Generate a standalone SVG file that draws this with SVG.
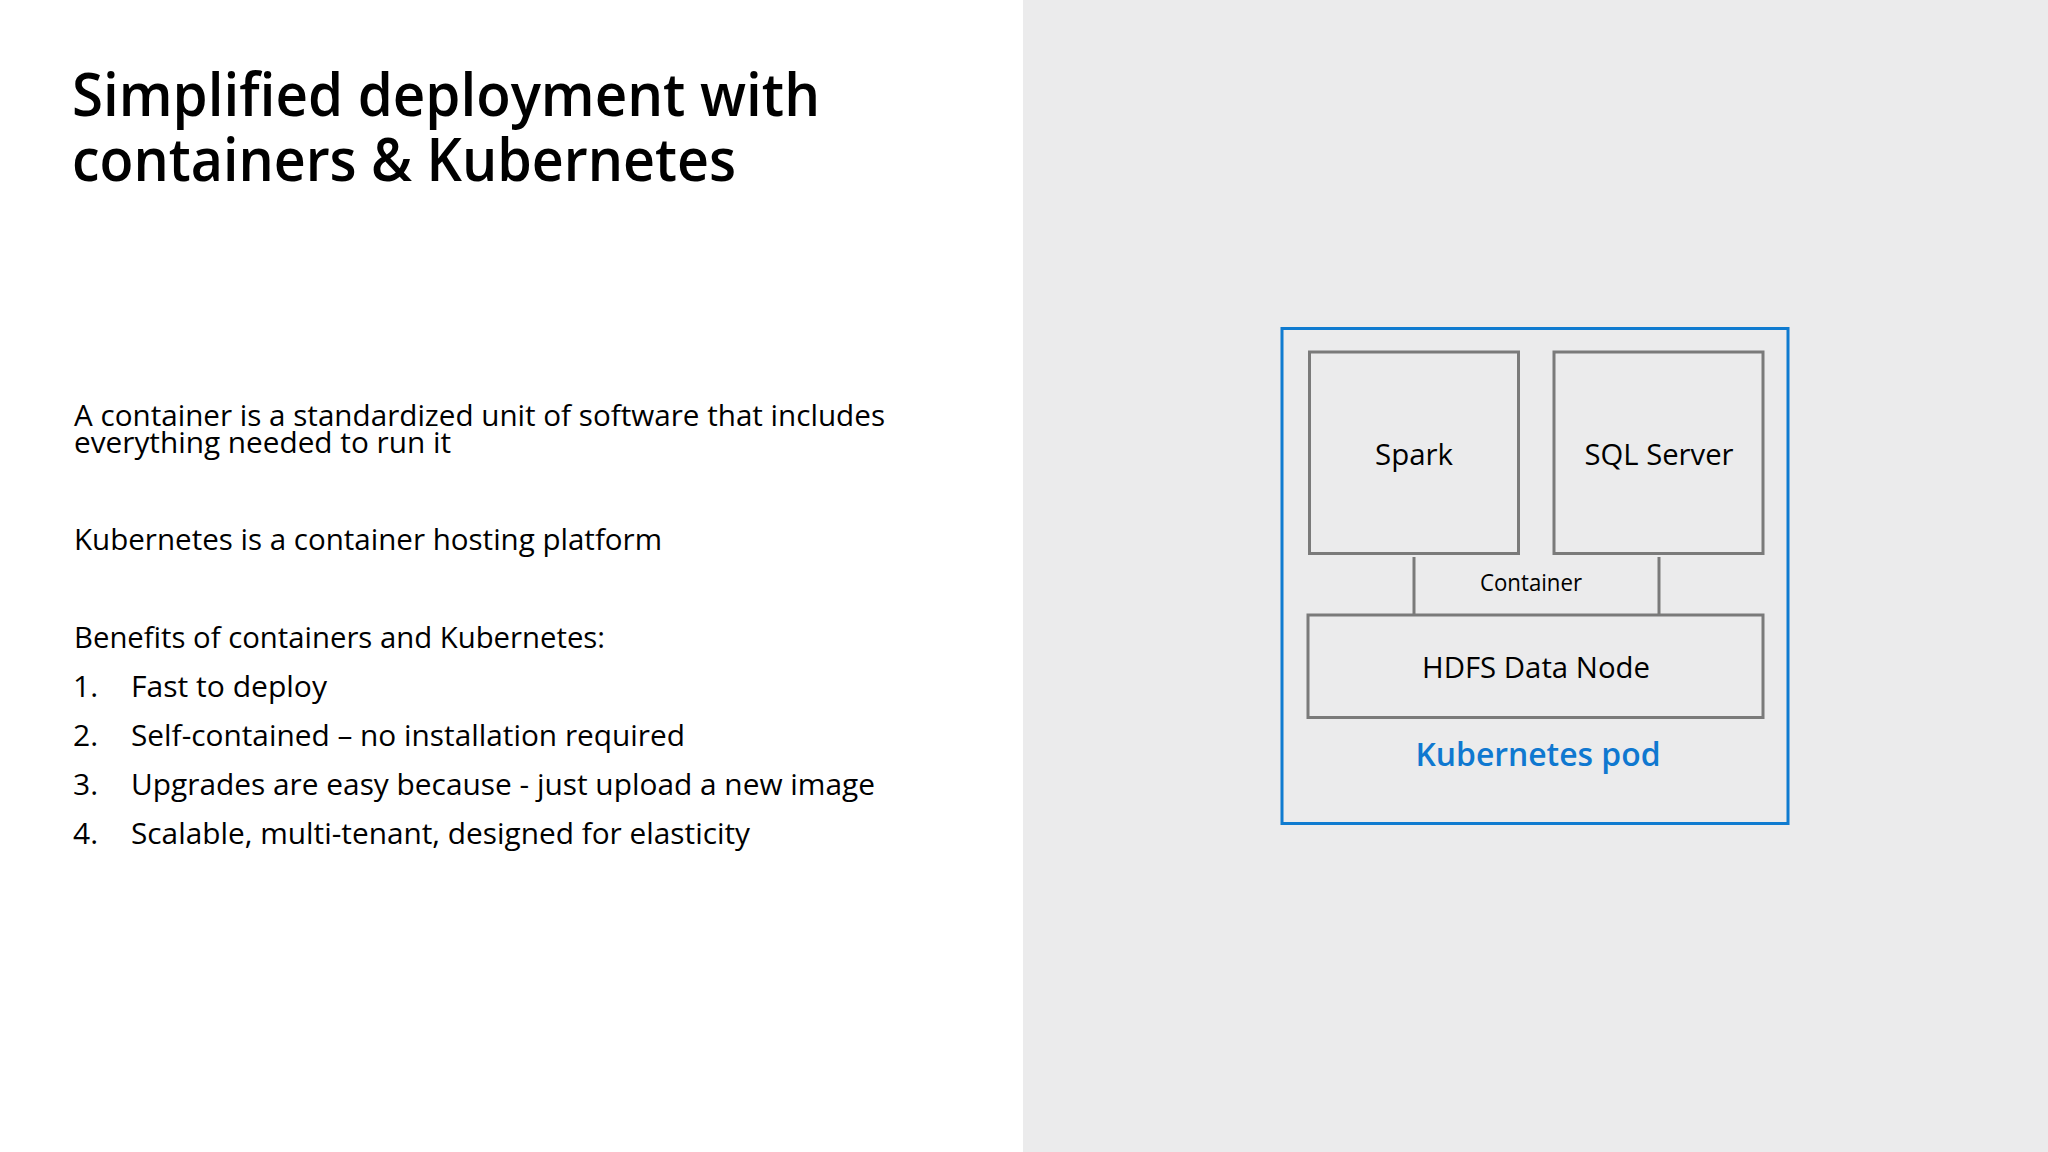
<svg xmlns="http://www.w3.org/2000/svg" width="2048" height="1152" viewBox="0 0 2048 1152">
<style>
text{font-family:"Open Sans","Noto Sans",sans-serif;fill:#000}
.t{font-size:59px;font-weight:600}
.b{font-size:30px}
.box{fill:none;stroke:#7a7a7a;stroke-width:3}
.n{font-size:30px;text-anchor:middle}
.c{stroke:#7a7a7a;stroke-width:3;fill:none}
</style>
<rect width="2048" height="1152" fill="#fff"/>
<rect x="1023" width="1025" height="1152" fill="#ebebec"/>
<text class="t" x="72" y="116" textLength="748" lengthAdjust="spacingAndGlyphs">Simplified deployment with</text>
<text class="t" x="72" y="181" textLength="664" lengthAdjust="spacingAndGlyphs">containers &amp; Kubernetes</text>
<text class="b" x="74" y="426" textLength="811" lengthAdjust="spacingAndGlyphs">A container is a standardized unit of software that includes</text>
<text class="b" x="74" y="453" textLength="377" lengthAdjust="spacingAndGlyphs">everything needed to run it</text>
<text class="b" x="74" y="550" textLength="588" lengthAdjust="spacingAndGlyphs">Kubernetes is a container hosting platform</text>
<text class="b" x="74" y="648" textLength="531" lengthAdjust="spacingAndGlyphs">Benefits of containers and Kubernetes:</text>
<text class="b" x="73" y="697">1.</text><text class="b" x="131" y="697" textLength="196" lengthAdjust="spacingAndGlyphs">Fast to deploy</text>
<text class="b" x="73" y="746">2.</text><text class="b" x="131" y="746" textLength="554" lengthAdjust="spacingAndGlyphs">Self-contained – no installation required</text>
<text class="b" x="73" y="795">3.</text><text class="b" x="131" y="795" textLength="744" lengthAdjust="spacingAndGlyphs">Upgrades are easy because - just upload a new image</text>
<text class="b" x="73" y="844">4.</text><text class="b" x="131" y="844" textLength="619" lengthAdjust="spacingAndGlyphs">Scalable, multi-tenant, designed for elasticity</text>
<g id="connectors">
<line class="c" x1="1414" y1="557" x2="1414" y2="614"/>
<line class="c" x1="1659" y1="557" x2="1659" y2="614"/>
</g>
<g id="pod"><rect x="1282" y="328.5" width="506" height="495" fill="none" stroke="#0f7bd0" stroke-width="3"/>
<text x="1538" y="766" font-size="33" font-weight="600" text-anchor="middle" textLength="245" lengthAdjust="spacingAndGlyphs" style="fill:#0f78d0">Kubernetes pod</text></g>
<g id="spark"><rect class="box" x="1309.5" y="352" width="209" height="201.5"/><text class="n" x="1414" y="465" textLength="78" lengthAdjust="spacingAndGlyphs">Spark</text></g>
<g id="sql"><rect class="box" x="1554" y="352" width="209" height="201.5"/><text class="n" x="1659" y="465" textLength="149" lengthAdjust="spacingAndGlyphs">SQL Server</text></g>
<g id="container"><text x="1531" y="591" font-size="23" text-anchor="middle" textLength="102" lengthAdjust="spacingAndGlyphs">Container</text></g>
<g id="hdfs"><rect class="box" x="1308" y="615" width="455" height="102.5"/><text class="n" x="1536" y="678" textLength="228" lengthAdjust="spacingAndGlyphs">HDFS Data Node</text></g>
</svg>
